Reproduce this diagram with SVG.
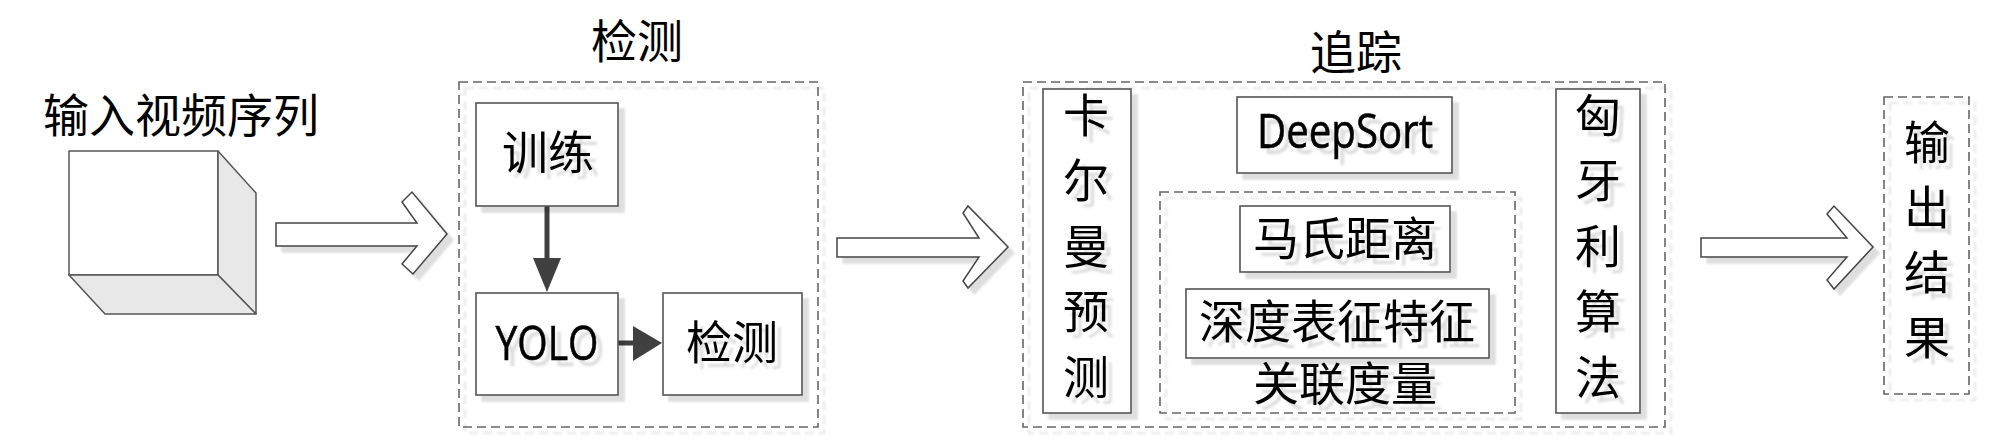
<svg xmlns="http://www.w3.org/2000/svg" width="2000" height="445" viewBox="0 0 2000 445">
<style>
.bx{fill:#fff;stroke:#555;stroke-width:1.6}
.dash{fill:none;stroke:#666;stroke-width:1.6;stroke-dasharray:9,5}
.cube{stroke:#555;stroke-width:1.5;stroke-linejoin:round}
.harrow{fill:#fff;stroke:#444;stroke-width:1.5;stroke-linejoin:miter}
.t{font-family:"Liberation Serif","Noto Sans CJK SC",serif;font-size:46px;fill:#000;text-anchor:middle}
.lat{font-family:"Open Sans","Liberation Sans",sans-serif;font-size:47px;fill:#000;text-anchor:middle;stroke:#000;stroke-width:0.6}
.sh{filter:url(#ds)}
.conn{stroke:#404040;stroke-width:5;fill:none}
.head{fill:#404040}
</style>
<defs>
<filter id="ds" x="-20%" y="-20%" width="140%" height="140%">
<feDropShadow dx="6" dy="6" stdDeviation="1.2" flood-color="#000" flood-opacity="0.13"/>
</filter>
</defs>
<rect width="2000" height="445" fill="#fff"/>

<g id="input">
<text class="t" x="181" y="132">输入视频序列</text>
<polygon class="cube" fill="#fff" points="69,151 218,151 218,275 69,275"/>
<polygon class="cube" fill="#e8e8e8" points="218,151 256,193 256,314 218,275"/>
<polygon class="cube" fill="#e8e8e8" points="69,275 218,275 256,314 105,314"/>
</g>

<g id="connectors">
<polygon class="harrow sh" points="276,223 417,223 402,202 412,192 447,234 413,274 402,264 417,246 276,246"/>
<polygon class="harrow sh" points="837,238 979,238 963,213 968,206 1008,247 968,288 963,281 979,257 837,257"/>
<polygon class="harrow sh" points="1701,238 1847,238 1827,214 1834,206 1873,247 1834,289 1827,280 1847,257 1701,257"/>
<line class="conn" x1="547" y1="206" x2="547" y2="262"/>
<polygon class="head" points="533,258 561,258 547,292"/>
<line class="conn" x1="618" y1="343" x2="636" y2="343"/>
<polygon class="head" points="633,326 633,361 662,343"/>
</g>

<g id="detect">
<text class="t" x="637" y="58">检测</text>
<rect class="dash sh" x="459" y="82" width="359" height="345"/>
</g>
<g id="train">
<rect class="bx sh" x="476" y="103" width="142" height="103"/>
<text class="t sh" x="548" y="169">训练</text>
</g>
<g id="yolo">
<rect class="bx sh" x="476" y="293" width="142" height="102"/>
<text class="lat sh" x="547" y="360" textLength="103" lengthAdjust="spacingAndGlyphs">YOLO</text>
</g>
<g id="detect-box">
<rect class="bx sh" x="663" y="293" width="139" height="102"/>
<text class="t sh" x="732" y="359">检测</text>
</g>

<g id="track">
<text class="t" x="1356" y="69">追踪</text>
<rect class="dash sh" x="1023" y="82" width="642" height="345"/>
</g>
<g id="kalman">
<rect class="bx sh" x="1043" y="89" width="88" height="324"/>
<g class="t sh">
<text x="1086" y="132">卡</text>
<text x="1086" y="197">尔</text>
<text x="1086" y="263">曼</text>
<text x="1086" y="328">预</text>
<text x="1086" y="394">测</text>
</g>
</g>
<g id="deepsort">
<rect class="bx sh" x="1237" y="97" width="215" height="76"/>
<text class="lat sh" x="1345" y="148" textLength="176" lengthAdjust="spacingAndGlyphs">DeepSort</text>
</g>
<g id="assoc">
<rect class="dash sh" x="1160" y="192" width="355" height="221"/>
<text class="t sh" x="1345" y="400">关联度量</text>
</g>
<g id="mahal">
<rect class="bx sh" x="1240" y="206" width="210" height="66"/>
<text class="t sh" x="1345" y="255">马氏距离</text>
</g>
<g id="deepfeat">
<rect class="bx sh" x="1186" y="289" width="303" height="69"/>
<text class="t sh" x="1337" y="338">深度表征特征</text>
</g>
<g id="hungarian">
<rect class="bx sh" x="1556" y="89" width="84" height="324"/>
<g class="t sh">
<text x="1598" y="132">匈</text>
<text x="1598" y="197">牙</text>
<text x="1598" y="263">利</text>
<text x="1598" y="328">算</text>
<text x="1598" y="394">法</text>
</g>
</g>

<g id="output">
<rect class="dash sh" x="1884" y="97" width="85" height="297"/>
<g class="t sh">
<text x="1927" y="159">输</text>
<text x="1927" y="224">出</text>
<text x="1927" y="289">结</text>
<text x="1927" y="354">果</text>
</g>
</g>
</svg>
